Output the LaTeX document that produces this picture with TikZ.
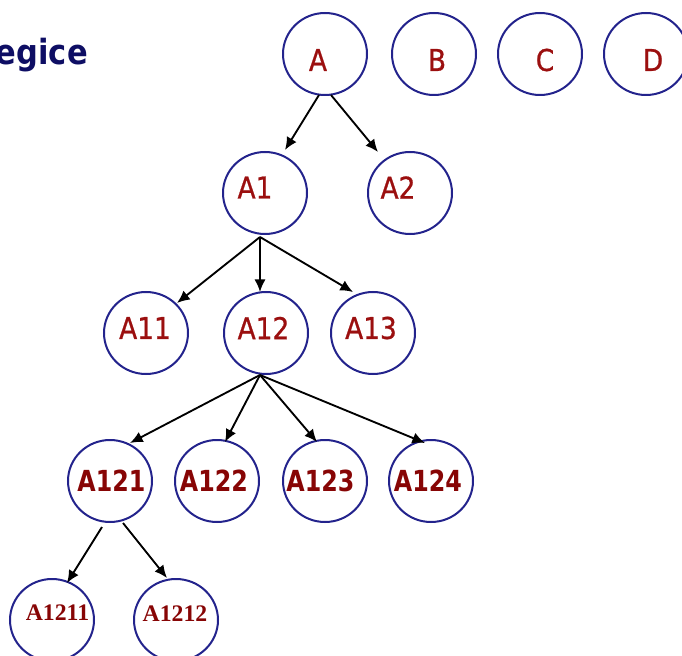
\documentclass[tikz,border=0pt]{standalone}
\usepackage{fontspec}
\usetikzlibrary{shapes.geometric,arrows.meta,calc}

% Fonts for the labels and the heading
\newfontfamily\labelfont[FakeStretch=0.88,FakeBold=0.8]{DejaVu Sans}
\newfontfamily\boldlabelfont[FakeStretch=0.82]{DejaVu Sans}
\newfontfamily\titlefont[FakeStretch=0.88]{DejaVu Sans}
\newfontfamily\seriflabelfont{Liberation Serif}

\definecolor{ringblue}{RGB}{35,35,140}
\definecolor{labelred}{RGB}{155,15,15}
\definecolor{boldred}{RGB}{135,5,5}
\definecolor{titlenavy}{RGB}{14,14,100}

\begin{document}
\begin{tikzpicture}[x=0.75pt,y=-0.75pt,
  ring/.style={ellipse, draw=ringblue, line width=1.5pt,
    minimum width=63pt, minimum height=61.5pt, inner sep=0pt},
  lbl/.style={text=labelred, inner sep=0pt,
    font=\labelfont\fontsize{22.5pt}{27pt}\selectfont},
  blbl/.style={text=boldred, inner sep=0pt,
    font=\boldlabelfont\bfseries\fontsize{21.75pt}{26pt}\selectfont},
  slbl/.style={text=boldred, inner sep=0pt,
    font=\seriflabelfont\bfseries\fontsize{17.8pt}{21pt}\selectfont},
  link/.style={draw=black, line width=1.4pt,
    -{Latex[length=9.5pt,width=8.5pt]}}]

\clip (0,0) rectangle (682,656);
\useasboundingbox (0,0) rectangle (682,656);

% heading (cut off at the left edge)
\node[anchor=base east, inner sep=0pt, text=titlenavy,
  font=\titlefont\bfseries\fontsize{26pt}{30pt}\selectfont] (title) at (88,65) {egice};

% rings
\node[ring] (A) at (325,54) {};
\node[ring] (B) at (434,54) {};
\node[ring] (C) at (540,54) {};
\node[ring] (D) at (646,54) {};
\node[ring] (A1) at (265,193) {};
\node[ring] (A2) at (410,193) {};
\node[ring] (A11) at (146,333) {};
\node[ring] (A12) at (266,333) {};
\node[ring] (A13) at (373,333) {};
\node[ring] (A121) at (110,481) {};
\node[ring] (A122) at (217,481) {};
\node[ring] (A123) at (325,481) {};
\node[ring] (A124) at (431,481) {};
\node[ring] (A1211) at (52,620) {};
\node[ring] (A1212) at (176,620) {};

% labels
\node[lbl] (tA) at (318,60) {A};
\node[lbl] (tB) at (437,60) {B};
\node[lbl] (tC) at (545,60) {C};
\node[lbl] (tD) at (653,60) {D};
\node[lbl] (tA1) at (255,187.5) {A1};
\node[lbl] (tA2) at (398,187.5) {A2};
\node[lbl] (tA11) at (145,328) {A11};
\node[lbl] (tA12) at (263.5,328) {A12};
\node[lbl] (tA13) at (371,328) {A13};
\node[blbl] (tA121) at (111.5,480.5) {A121};
\node[blbl] (tA122) at (214,480.5) {A122};
\node[blbl] (tA123) at (320.5,480.5) {A123};
\node[blbl] (tA124) at (428,480.5) {A124};
\node[slbl] (tA1211) at (57.5,613) {A1211};
\node[slbl] (tA1212) at (175,614) {A1212};

% connectors
\draw[link] ($(A)+(-6,41)$) -- ($(A1)+(20,-43)$);
\draw[link] ($(A)+(6,41)$) -- ($(A2)+(-32,-41)$);
\draw[link] ($(A1)+(-5,44)$) -- ($(A11)+(31,-30)$);
\draw[link] ($(A1)+(-5,44)$) -- ($(A12)+(-6,-41)$);
\draw[link] ($(A1)+(-5,44)$) -- ($(A13)+(-20,-41)$);
\draw[link] ($(A12)+(-6,42)$) -- ($(A121)+(20,-38)$);
\draw[link] ($(A12)+(-6,42)$) -- ($(A122)+(8,-39)$);
\draw[link] ($(A12)+(-6,42)$) -- ($(A123)+(-8,-39)$);
\draw[link] ($(A12)+(-6,42)$) -- ($(A124)+(-6,-38)$);
\draw[link] ($(A121)+(-8,46)$) -- ($(A1211)+(15,-37)$);
\draw[link] ($(A121)+(13,42)$) -- ($(A1212)+(-9,-42)$);
\end{tikzpicture}
\end{document}
